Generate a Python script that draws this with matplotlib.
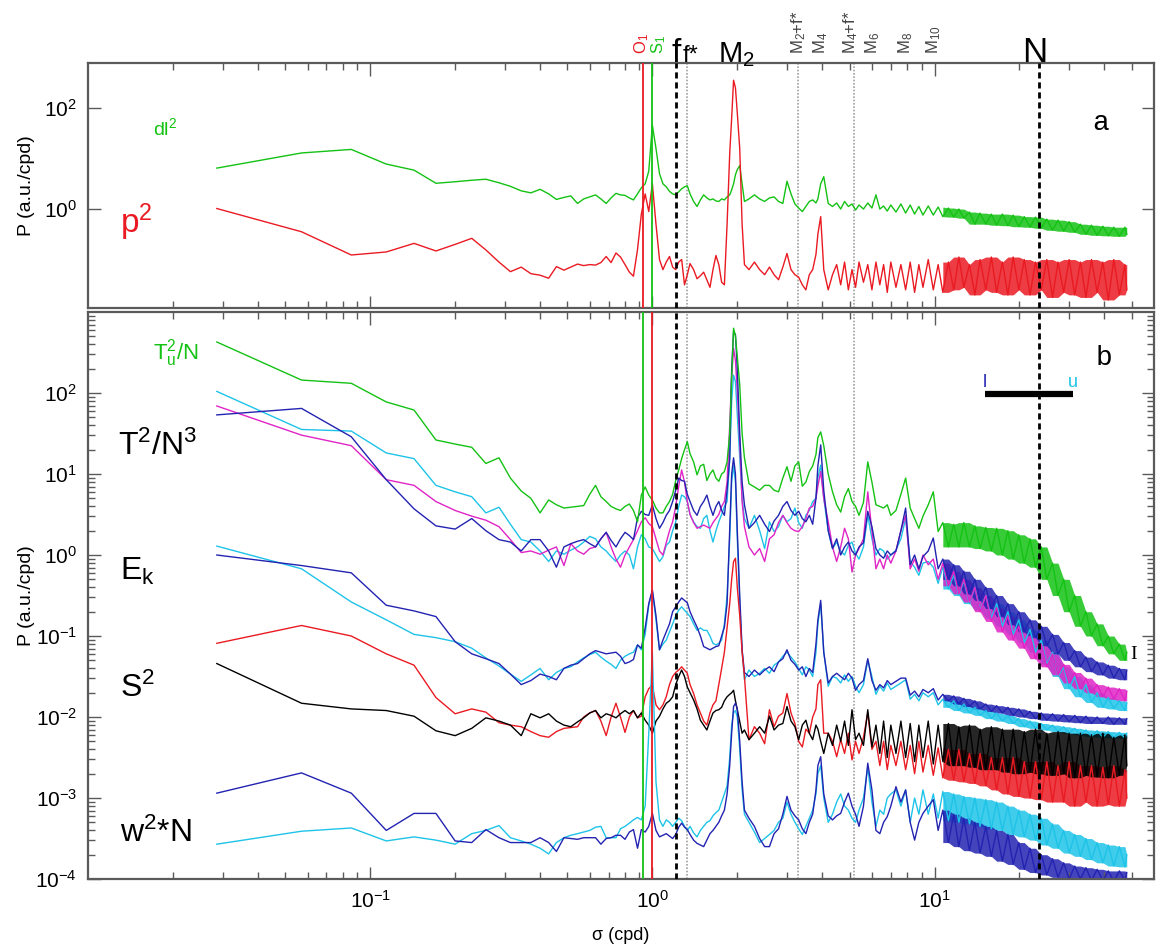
import numpy as np
import matplotlib
matplotlib.use('Agg')
import matplotlib.pyplot as plt
from matplotlib import transforms

plt.rcParams['font.family'] = ['Liberation Sans', 'DejaVu Sans']
plt.rcParams['mathtext.fontset'] = 'custom'
plt.rcParams['mathtext.rm'] = 'Liberation Sans'
plt.rcParams['mathtext.it'] = 'Liberation Sans:italic'
plt.rcParams['mathtext.bf'] = 'Liberation Sans:bold'
plt.rcParams['mathtext.default'] = 'regular'

# frequency grid (cpd): low part, tidal band, high-frequency part
sig_low = [0.0286, 0.0571, 0.0857, 0.114, 0.143, 0.171, 0.2, 0.229, 0.257, 0.286,
           0.314, 0.343, 0.371, 0.4, 0.429, 0.457, 0.486, 0.514, 0.543, 0.571,
           0.6, 0.629, 0.657, 0.686, 0.714, 0.743, 0.771, 0.8, 0.829, 0.857,
           0.886]
sig_mid = [0.914, 0.943, 0.971, 1.0, 1.03, 1.06, 1.09, 1.12, 1.15, 1.18,
           1.21, 1.24, 1.27, 1.30, 1.33, 1.36, 1.40, 1.44, 1.48, 1.52,
           1.56, 1.60, 1.64, 1.68, 1.72, 1.76, 1.80, 1.84, 1.88, 1.91,
           1.94, 1.97, 2.0, 2.04, 2.08, 2.12]
sig_high = [2.2, 2.3, 2.4, 2.5, 2.6, 2.7, 2.8, 2.9, 3.0, 3.1,
            3.2, 3.3, 3.4, 3.5, 3.6, 3.7, 3.8, 3.86, 3.95, 4.05,
            4.2, 4.35, 4.5, 4.65, 4.8, 4.95, 5.1, 5.25, 5.4, 5.6,
            5.8, 6.0, 6.2, 6.4, 6.6, 6.8, 7.0, 7.3, 7.6, 7.9,
            8.2, 8.5, 8.8, 9.1, 9.5, 9.9, 10.3, 10.7, 11.2, 11.7,
            12.2, 12.7, 13.3, 13.9, 14.5, 15.2, 15.9, 16.6, 17.4, 18.2,
            19.0, 19.9, 20.8, 21.8, 22.8, 23.9, 25.0, 26.2, 27.4, 28.7,
            30.0, 31.4, 32.9, 34.4, 36.0, 37.7, 39.5, 41.3, 43.2, 45.2,
            47.3, 48.0]

# spectra, log10 of P (a.u./cpd)
# panel a
dl2 = [0.81, 1.11, 1.18, 0.89, 0.77, 0.51, 0.54, 0.57, 0.59, 0.52,
       0.45, 0.36, 0.32, 0.39, 0.30, 0.19, 0.23, 0.26, 0.11, 0.20,
       0.24, 0.28, 0.20, 0.11, 0.22, 0.31, 0.28, 0.27, 0.22, 0.18,
       0.30,
       0.42, 0.50, 0.75, 1.66, 1.20, 0.70, 0.50, 0.44, 0.35, 0.30,
       0.28, 0.34, 0.40, 0.44, 0.46, 0.30, 0.15, 0.05, 0.18, 0.28,
       0.22, 0.18, 0.20, 0.16, 0.15, 0.20, 0.18, 0.24, 0.28, 0.38,
       0.50, 0.68, 0.78, 0.86, 0.50, 0.15,
       0.20, 0.28, 0.20, 0.15, 0.22, 0.24, 0.15, 0.11, 0.55, 0.30,
       0.10, 0.02, -0.05, 0.05, 0.15, 0.18, 0.12, 0.20, 0.50, 0.64,
       0.11, 0.05, 0.12, 0.00, 0.15, 0.05, 0.10, -0.02, 0.08, 0.00,
       0.12, 0.02, 0.28, 0.00, 0.06, -0.04, 0.08, -0.06, 0.10, -0.08,
       0.08, -0.10, 0.05, -0.12, 0.06, -0.12, 0.04, -0.15, 0.02, -0.16,
       0.00, -0.18, -0.06, -0.30, -0.08, -0.30, -0.10, -0.32, -0.10, -0.33,
       -0.12, -0.35, -0.15, -0.36, -0.16, -0.38, -0.20, -0.42, -0.22, -0.44,
       -0.25, -0.46, -0.30, -0.50, -0.32, -0.52, -0.34, -0.53, -0.36, -0.54,
       -0.36, -0.50]
p2 = [0.01, -0.45, -0.91, -0.85, -0.68, -0.83, -0.70, -0.58, -0.81, -1.05,
      -1.24, -1.15, -1.28, -1.31, -1.37, -1.14, -1.21, -1.15, -1.09, -1.12,
      -1.10, -1.11, -1.06, -0.94, -1.06, -0.87, -0.95, -1.10, -1.25, -1.33,
      -0.80,
      -0.10, 0.30, -0.05, 0.50, -0.30, -1.00, -1.20, -1.05, -0.94, -1.15,
      -1.20, -1.05, -1.00, -1.50, -1.30, -1.08, -1.20, -1.38, -1.32, -1.25,
      -1.40, -1.55, -1.20, -0.92, -1.10, -1.45, -1.50, -0.30, 1.10, 1.80,
      2.55, 2.40, 1.90, 1.20, -0.30, -1.10,
      -1.20, -1.05, -1.20, -1.30, -1.15, -1.30, -1.40, -1.15, -0.88, -1.20,
      -1.30, -1.35, -1.50, -1.60, -1.30, -1.20, -0.90, -0.50, -0.15, -1.20,
      -1.60, -1.30, -1.10, -1.50, -1.05, -1.60, -1.20, -1.55, -1.05, -1.45,
      -1.10, -1.60, -1.05, -1.50, -1.10, -1.65, -1.05, -1.55, -1.10, -1.60,
      -1.05, -1.65, -1.10, -1.55, -1.00, -1.60, -1.10, -1.65, -1.05, -1.60,
      -0.95, -1.55, -1.10, -1.70, -1.00, -1.60, -0.95, -1.65, -1.05, -1.70,
      -0.95, -1.60, -1.00, -1.70, -1.05, -1.60, -1.00, -1.75, -1.05, -1.65,
      -1.00, -1.70, -1.05, -1.75, -1.00, -1.65, -1.05, -1.80, -1.00, -1.70,
      -1.10, -1.60]

# panel b
tu2 = [2.63, 2.16, 2.12, 1.89, 1.79, 1.42, 1.37, 1.33, 1.13, 1.20,
       0.95, 0.79, 0.70, 0.52, 0.68, 0.62, 0.58, 0.59, 0.60, 0.61,
       0.75, 0.86, 0.72, 0.66, 0.60, 0.57, 0.55, 0.60, 0.63, 0.55,
       0.41,
       0.74, 0.84, 0.74, 0.68, 0.58, 0.52, 0.52, 0.60, 0.66, 0.75,
       0.92, 1.05, 1.19, 1.30, 1.40, 1.25, 1.15, 0.99, 1.10, 1.12,
       0.92, 1.00, 1.05, 0.95, 0.91, 1.00, 1.03, 1.15, 1.50, 2.20,
       2.80, 2.70, 2.45, 2.10, 1.50, 1.20,
       0.88, 0.84, 0.80, 0.86, 0.86, 0.80, 0.78, 0.95, 1.09, 0.91,
       1.10, 1.15, 0.85, 0.90, 1.03, 1.10, 1.24, 1.45, 1.52, 1.35,
       1.00, 0.78, 0.62, 0.53, 0.72, 0.82, 0.66, 0.60, 0.49, 0.65,
       1.15, 0.90, 0.62, 0.60, 0.58, 0.62, 0.49, 0.55, 0.75, 0.95,
       0.58, 0.45, 0.33, 0.48, 0.62, 0.78, 0.29, 0.40, 0.10, 0.38,
       0.10, 0.40, 0.10, 0.36, 0.08, 0.34, 0.05, 0.33, 0.00, 0.30,
       -0.05, 0.25, -0.10, 0.20, -0.15, 0.10, -0.30, -0.10, -0.50, -0.30,
       -0.70, -0.50, -0.88, -0.70, -1.00, -0.85, -1.12, -1.00, -1.22, -1.10,
       -1.30, -1.20]
t2_cyan = [2.02, 1.55, 1.53, 1.26, 1.19, 0.86, 0.78, 0.72, 0.52, 0.59,
           0.38, 0.19, 0.16, 0.05, -0.08, 0.05, 0.01, 0.06, 0.10, 0.16,
           0.23, 0.20, 0.10, 0.05, -0.02, -0.08, 0.00, 0.05, 0.00, -0.17,
           0.10,
           0.25, 0.20, 0.10, 0.08, 0.00, -0.08, -0.02, 0.12, 0.16, 0.30,
           0.41, 0.60, 0.74, 0.72, 0.66, 0.50, 0.41, 0.35, 0.33, 0.45,
           0.49, 0.30, 0.16, 0.30, 0.41, 0.50, 0.60, 0.66, 1.20, 1.90,
           2.22, 2.14, 1.73, 1.20, 0.70, 0.45,
           0.33, 0.49, 0.30, 0.08, 0.41, 0.29, 0.35, 0.49, 0.41, 0.45,
           0.58, 0.40, 0.33, 0.49, 0.55, 0.66, 0.70, 0.95, 1.11, 0.70,
           0.30, 0.08, 0.16, 0.05, 0.00, 0.12, 0.16, 0.02, -0.05, 0.10,
           0.49, 0.20, 0.00, 0.08, 0.05, -0.05, 0.00, 0.06, 0.20, 0.45,
           -0.08, -0.15, -0.25, -0.10, -0.08, -0.15, -0.35, -0.15, -0.42, -0.25,
           -0.50, -0.32, -0.60, -0.40, -0.68, -0.50, -0.78, -0.60, -0.88, -0.70,
           -0.98, -0.80, -1.08, -0.92, -1.20, -1.05, -1.35, -1.20, -1.50, -1.38,
           -1.65, -1.50, -1.75, -1.60, -1.82, -1.70, -1.88, -1.76, -1.90, -1.80,
           -1.92, -1.82]
t2_mag = [1.84, 1.48, 1.35, 0.93, 0.86, 0.66, 0.55, 0.48, 0.43, 0.35,
          0.19, 0.03, 0.05, 0.01, 0.06, 0.10, -0.13, 0.14, 0.05, 0.01,
          0.08, 0.10, 0.20, 0.28, 0.10, -0.05, -0.15, 0.00, 0.10, 0.19,
          0.30,
          0.41, 0.46, 0.39, 0.35, 0.20, 0.05, 0.00, 0.15, 0.30, 0.41,
          0.60, 0.85, 1.05, 0.90, 0.66, 0.50, 0.40, 0.33, 0.35, 0.37,
          0.35, 0.33, 0.40, 0.45, 0.50, 0.60, 0.66, 0.90, 1.60, 2.20,
          2.55, 2.40, 2.02, 1.40, 0.66, 0.35,
          0.10, 0.00, 0.08, -0.08, 0.20, 0.25, 0.40, 0.49, 0.40, 0.33,
          0.30, 0.29, 0.35, 0.45, 0.58, 0.60, 0.70, 0.85, 1.03, 0.70,
          0.41, 0.10, -0.08, 0.10, 0.33, 0.20, -0.21, 0.00, 0.08, 0.20,
          0.78, 0.30, -0.17, -0.05, -0.17, 0.00, -0.10, 0.05, 0.30, 0.49,
          -0.17, -0.05, -0.20, 0.00, -0.12, -0.05, -0.30, -0.10, -0.38, -0.20,
          -0.48, -0.30, -0.58, -0.40, -0.70, -0.50, -0.82, -0.65, -0.95, -0.75,
          -1.05, -0.88, -1.15, -1.00, -1.28, -1.10, -1.38, -1.22, -1.48, -1.35,
          -1.58, -1.45, -1.65, -1.52, -1.70, -1.60, -1.75, -1.63, -1.78, -1.65,
          -1.80, -1.68]
t2_navy = [1.73, 1.81, 1.46, 0.93, 0.57, 0.36, 0.32, 0.45, 0.30, 0.19,
           0.16, 0.05, 0.19, 0.19, 0.05, -0.15, 0.10, 0.14, 0.17, 0.19,
           0.14, 0.10, 0.20, 0.28, 0.18, 0.10, 0.20, 0.28, 0.24, 0.19,
           0.46,
           0.54, 0.50, 0.49, 0.62, 0.45, 0.33, 0.40, 0.49, 0.55, 0.66,
           0.80, 0.95, 0.92, 0.91, 0.75, 0.66, 0.55, 0.49, 0.60, 0.66,
           0.74, 0.60, 0.49, 0.60, 0.66, 0.55, 0.49, 0.80, 1.19, 2.30,
           2.76, 2.72, 2.30, 1.50, 0.90, 0.62,
           0.33, 0.40, 0.49, 0.38, 0.29, 0.42, 0.49, 0.60, 0.66, 0.55,
           0.49, 0.54, 0.45, 0.41, 0.49, 0.38, 0.70, 1.10, 1.36, 0.80,
           0.30, 0.08, 0.20, 0.00, 0.10, 0.16, 0.05, 0.00, 0.10, 0.15,
           0.54, 0.35, 0.08, 0.00, -0.04, 0.05, 0.00, 0.05, 0.30, 0.58,
           -0.12, 0.00, -0.17, -0.02, 0.05, 0.21, -0.17, -0.05, -0.30, -0.12,
           -0.38, -0.20, -0.48, -0.30, -0.56, -0.40, -0.66, -0.50, -0.76, -0.60,
           -0.86, -0.70, -0.95, -0.80, -1.02, -0.88, -1.12, -0.98, -1.22, -1.08,
           -1.30, -1.18, -1.38, -1.26, -1.44, -1.32, -1.48, -1.36, -1.52, -1.40,
           -1.54, -1.42]
ek_cyan = [0.11, -0.17, -0.58, -0.80, -0.98, -1.02, -1.07, -1.15, -1.27, -1.37,
           -1.47, -1.56, -1.48, -1.40, -1.54, -1.45, -1.40, -1.38, -1.32, -1.27,
           -1.23, -1.20, -1.26, -1.31, -1.35, -1.40, -1.30, -1.25, -1.22, -1.20,
           -1.11,
           -1.17, -0.98, -0.62, -0.45, -0.80, -1.17, -1.10, -1.05, -0.95, -0.85,
           -0.75, -0.68, -0.64, -0.68, -0.72, -0.76, -0.85, -0.93, -0.90, -0.93,
           -0.93, -1.00, -1.09, -1.11, -1.09, -1.05, -0.85, -0.50, 0.20, 0.90,
           1.10, 0.90, 0.20, -0.60, -1.17, -1.54,
           -1.42, -1.50, -1.46, -1.40, -1.46, -1.36, -1.32, -1.25, -1.20, -1.26,
           -1.32, -1.40, -1.48, -1.38, -1.42, -1.50, -1.20, -0.85, -0.60, -1.20,
           -1.62, -1.50, -1.52, -1.58, -1.48, -1.56, -1.50, -1.62, -1.70, -1.60,
           -1.30, -1.50, -1.72, -1.62, -1.68, -1.58, -1.66, -1.62, -1.58, -1.54,
           -1.78, -1.72, -1.80, -1.70, -1.75, -1.70, -1.85, -1.78, -1.88, -1.80,
           -1.92, -1.84, -1.95, -1.88, -1.98, -1.92, -2.02, -1.95, -2.05, -1.98,
           -2.08, -2.02, -2.12, -2.05, -2.14, -2.08, -2.16, -2.10, -2.18, -2.12,
           -2.20, -2.14, -2.22, -2.16, -2.24, -2.17, -2.25, -2.18, -2.26, -2.19,
           -2.26, -2.20]
ek_navy = [0.00, -0.13, -0.22, -0.62, -0.69, -0.76, -1.07, -1.22, -1.28, -1.34,
           -1.47, -1.60, -1.55, -1.47, -1.50, -1.54, -1.40, -1.36, -1.34, -1.28,
           -1.22, -1.18, -1.20, -1.22, -1.21, -1.20, -1.25, -1.34, -1.32, -1.29,
           -1.11,
           -1.15, -0.90, -0.60, -0.43, -0.75, -1.17, -1.05, -0.95, -0.85, -0.70,
           -0.64, -0.58, -0.53, -0.56, -0.59, -0.70, -0.80, -0.89, -1.00, -1.13,
           -1.15, -1.17, -1.15, -1.13, -1.12, -1.00, -0.89, -0.60, 0.30, 1.00,
           1.20, 1.00, 0.30, -0.50, -1.17, -1.45,
           -1.50, -1.42, -1.48, -1.42, -1.38, -1.44, -1.32, -1.28, -1.17, -1.30,
           -1.35, -1.42, -1.38, -1.50, -1.40, -1.45, -1.10, -0.80, -0.56, -1.20,
           -1.58, -1.50, -1.46, -1.50, -1.54, -1.46, -1.52, -1.67, -1.60, -1.55,
           -1.28, -1.55, -1.67, -1.60, -1.64, -1.55, -1.60, -1.56, -1.52, -1.52,
           -1.73, -1.68, -1.75, -1.66, -1.70, -1.65, -1.79, -1.72, -1.80, -1.74,
           -1.84, -1.77, -1.87, -1.80, -1.90, -1.84, -1.93, -1.86, -1.95, -1.88,
           -1.98, -1.90, -2.00, -1.93, -2.02, -1.95, -2.04, -1.96, -2.05, -1.97,
           -2.06, -1.98, -2.07, -1.99, -2.08, -2.00, -2.08, -2.00, -2.09, -2.01,
           -2.09, -2.02]
s2_red = [-1.09, -0.87, -1.00, -1.22, -1.36, -1.76, -1.96, -1.90, -1.94, -2.07,
          -2.10, -2.12, -2.18, -2.23, -2.25, -2.18, -2.14, -2.13, -2.12, -2.00,
          -1.95, -1.92, -2.05, -2.23, -2.00, -1.83, -2.00, -2.19, -2.00, -1.92,
          -2.01,
          -1.99, -1.75, -1.65, -1.61, -1.85, -1.91, -1.85, -1.75, -1.60, -1.50,
          -1.45, -1.42, -1.38, -1.42, -1.46, -1.60, -1.71, -1.85, -1.95, -2.05,
          -2.10, -1.95, -1.85, -1.80, -1.60, -1.40, -1.20, -0.90, -0.60, -0.30,
          -0.08, -0.04, -0.40, -0.75, -1.20, -1.50,
          -2.28, -2.12, -2.20, -2.33, -1.91, -2.12, -1.99, -1.95, -1.71, -1.95,
          -2.08, -2.30, -2.37, -2.15, -2.20, -2.00, -1.90, -1.60, -1.54, -2.20,
          -2.20, -2.30, -2.49, -2.28, -2.45, -2.20, -2.53, -2.30, -2.45, -2.25,
          -1.95, -2.40, -2.30, -2.60, -2.30, -2.65, -2.35, -2.60, -2.30, -2.65,
          -2.35, -2.70, -2.30, -2.68, -2.35, -2.72, -2.38, -2.75, -2.40, -2.78,
          -2.40, -2.80, -2.45, -2.82, -2.45, -2.85, -2.50, -2.90, -2.50, -2.95,
          -2.50, -2.98, -2.55, -3.00, -2.55, -3.02, -2.55, -3.05, -2.60, -3.05,
          -2.55, -3.10, -2.60, -3.05, -2.60, -3.10, -2.62, -3.08, -2.60, -3.10,
          -2.65, -3.00]
s2_black = [-1.34, -1.83, -1.90, -1.92, -1.99, -2.17, -2.23, -2.14, -2.01, -2.05,
            -2.10, -2.23, -1.96, -2.01, -1.96, -2.05, -2.10, -2.12, -2.06, -2.01,
            -1.95, -1.92, -2.01, -1.96, -1.98, -2.01, -1.96, -1.92, -1.96, -1.92,
            -2.01,
            -1.95, -2.04, -2.10, -2.20, -2.05, -1.99, -1.90, -1.83, -1.80, -1.75,
            -1.60, -1.50, -1.42, -1.50, -1.63, -1.70, -1.79, -1.90, -2.04, -2.10,
            -2.16, -2.05, -1.95, -1.92, -1.91, -1.88, -1.80, -1.75, -1.72, -1.70,
            -1.67, -1.80, -1.91, -2.05, -2.20, -2.16,
            -2.28, -2.20, -2.12, -2.20, -1.99, -2.16, -2.10, -2.08, -1.87, -2.05,
            -2.12, -2.28, -2.10, -2.04, -2.20, -2.28, -2.10, -2.15, -2.30, -2.45,
            -2.20, -2.35, -2.10, -2.30, -2.05, -2.35, -1.91, -2.28, -2.20, -2.35,
            -1.91, -2.37, -2.10, -2.45, -2.05, -2.50, -2.10, -2.45, -2.05, -2.50,
            -2.08, -2.55, -2.10, -2.50, -2.05, -2.58, -2.10, -2.55, -2.08, -2.60,
            -2.12, -2.60, -2.10, -2.62, -2.15, -2.65, -2.12, -2.65, -2.15, -2.68,
            -2.15, -2.70, -2.18, -2.68, -2.15, -2.70, -2.20, -2.72, -2.18, -2.70,
            -2.20, -2.75, -2.20, -2.72, -2.22, -2.74, -2.20, -2.75, -2.25, -2.72,
            -2.22, -2.60]
w2_navy = [-2.94, -2.69, -2.94, -3.40, -3.19, -3.19, -3.53, -3.55, -3.39, -3.49,
           -3.55, -3.55, -3.55, -3.49, -3.55, -3.66, -3.49, -3.50, -3.51, -3.49,
           -3.49, -3.49, -3.57, -3.50, -3.49, -3.46, -3.46, -3.51, -3.42, -3.39,
           -3.62,
           -3.39, -3.42, -3.35, -3.19, -3.40, -3.48, -3.46, -3.44, -3.47, -3.50,
           -3.45, -3.36, -3.31, -3.36, -3.39, -3.45, -3.52, -3.56, -3.58, -3.60,
           -3.52, -3.44, -3.40, -3.35, -3.30, -3.22, -3.15, -2.95, -2.60, -2.20,
           -1.87, -1.83, -1.90, -2.30, -2.80, -3.15,
           -3.25, -3.35, -3.50, -3.60, -3.60, -3.44, -3.38, -3.20, -2.98, -3.15,
           -3.22, -3.27, -3.38, -3.44, -3.30, -3.20, -2.90, -2.60, -2.49, -2.95,
           -3.22, -3.27, -3.22, -3.19, -3.05, -2.94, -3.10, -3.20, -3.35, -3.10,
           -2.57, -2.90, -3.40, -3.44, -3.30, -3.23, -3.10, -2.86, -3.05, -2.90,
           -3.30, -3.52, -3.30, -3.19, -3.10, -3.02, -3.40, -3.15, -3.55, -3.20,
           -3.60, -3.25, -3.65, -3.30, -3.68, -3.35, -3.72, -3.40, -3.78, -3.45,
           -3.82, -3.55, -3.88, -3.62, -3.92, -3.70, -3.95, -3.75, -3.98, -3.80,
           -4.00, -3.84, -4.00, -3.86, -4.02, -3.88, -4.02, -3.90, -4.03, -3.90,
           -4.02, -3.92]
w2_cyan = [-3.57, -3.41, -3.37, -3.53, -3.48, -3.52, -3.57, -3.44, -3.40, -3.34,
           -3.49, -3.53, -3.57, -3.62, -3.69, -3.55, -3.49, -3.46, -3.44, -3.42,
           -3.40, -3.36, -3.35, -3.49, -3.49, -3.49, -3.38, -3.35, -3.31, -3.27,
           -3.24,
           -3.27, -3.10, -2.20, -1.20, -2.80, -3.27, -3.35, -3.27, -3.30, -3.35,
           -3.30, -3.25, -3.28, -3.35, -3.40, -3.35, -3.43, -3.48, -3.40, -3.35,
           -3.30, -3.28, -3.22, -3.18, -3.15, -3.05, -2.95, -2.85, -2.50, -2.10,
           -1.95, -1.92, -2.00, -2.40, -2.90, -3.20,
           -3.30, -3.42, -3.55, -3.50, -3.45, -3.40, -3.30, -3.25, -3.05, -3.20,
           -3.30, -3.38, -3.45, -3.35, -3.25, -3.15, -2.95, -2.70, -2.60, -3.00,
           -3.30, -3.20, -3.05, -2.95, -3.10, -3.15, -3.25, -3.30, -3.15, -3.00,
           -2.62, -3.05, -3.35, -3.15, -3.20, -3.00, -2.95, -2.90, -3.10, -2.90,
           -3.30, -3.00, -3.20, -2.90, -3.20, -2.95, -3.25, -2.92, -3.28, -2.95,
           -3.30, -2.98, -3.32, -3.00, -3.35, -3.02, -3.38, -3.05, -3.40, -3.10,
           -3.45, -3.15, -3.48, -3.20, -3.52, -3.25, -3.58, -3.32, -3.62, -3.40,
           -3.68, -3.45, -3.72, -3.50, -3.76, -3.55, -3.80, -3.58, -3.84, -3.60,
           -3.85, -3.70]

# reference frequencies (cpd)
o1 = 0.93
s1 = 1.0
f_inertial = 1.216
f_star = 1.327
m2_fstar = 3.27
m4_fstar = 5.2
n_buoy = 23.4
tide_names = ['M$_2$+f*', 'M$_4$', 'M$_4$+f*', 'M$_6$', 'M$_8$', 'M$_{10}$']
tide_freqs = [3.30, 3.95, 5.05, 6.05, 7.9, 9.9]

# bandwidth bar in panel b
bar_sigma = [15.1, 30.9]
bar_p = [98.0, 98.0]

GREEN = '#14c214'
RED = '#ea1a22'
CYAN = '#1ec3e8'
NAVY = '#2323b2'
MAGENTA = '#e024c6'
FRAME = '#5a5a5a'

sigma = np.array(sig_low + sig_mid + sig_high)
band_from = 10.5   # above this the spectra form a dense noise band


def P(vals):
    return 10.0 ** np.asarray(vals)


def draw_spectrum(ax, vals, color):
    v = np.asarray(vals)
    ax.plot(sigma, P(v), color=color, lw=1.0)
    # shade the spread of the dense high-frequency noise
    pad = np.concatenate(([v[0]], v, [v[-1]]))
    hi = np.maximum(np.maximum(pad[:-2], pad[1:-1]), pad[2:])
    lo = np.minimum(np.minimum(pad[:-2], pad[1:-1]), pad[2:])
    m = sigma >= band_from
    ax.fill_between(sigma[m], P(lo[m]), P(hi[m]), color=color, lw=0, alpha=0.85)


fig = plt.figure(figsize=(11.6, 9.51), dpi=100)
ax_a = fig.add_axes([0.0759, 0.6761, 0.919, 0.2576])
ax_b = fig.add_axes([0.0759, 0.0757, 0.919, 0.5962])

draw_spectrum(ax_a, dl2, GREEN)
draw_spectrum(ax_a, p2, RED)

for vals, col in [(t2_cyan, CYAN), (t2_mag, MAGENTA), (t2_navy, NAVY), (tu2, GREEN),
                  (ek_cyan, CYAN), (ek_navy, NAVY), (s2_red, RED), (s2_black, 'k'),
                  (w2_cyan, CYAN), (w2_navy, NAVY)]:
    draw_spectrum(ax_b, vals, col)

# vertical reference lines
for ax, (c1, c2) in [(ax_a, (RED, GREEN)), (ax_b, (GREEN, RED))]:
    ax.axvline(o1, color=c1, lw=1.3, zorder=4)
    ax.axvline(s1, color=c2, lw=1.3, zorder=4)
    for x in (f_star, m2_fstar, m4_fstar):
        ax.axvline(x, color='#a0a0a0', lw=1.2, ls=(0, (1, 1)), zorder=1)
    for x in (f_inertial, n_buoy):
        ax.axvline(x, color='k', lw=2.0, ls=(0, (2.2, 1.4)), zorder=4)

minor_x = [k * 10.0 ** d for d in (-2, -1, 0, 1) for k in range(2, 10) if k * 10.0 ** d < 60]
for ax in (ax_a, ax_b):
    ax.set_xscale('log')
    ax.set_yscale('log')
    ax.set_xlim(0.01, 60)
    ax.set_xticks([0.1, 1, 10])
    ax.set_xticks(minor_x, minor=True)
    ax.tick_params(which='both', direction='in', top=True, right=True,
                   color=FRAME, width=1.0, labelsize=15, pad=8)
    ax.tick_params(which='major', length=9)
    ax.tick_params(which='minor', length=5)
    for sp in ax.spines.values():
        sp.set_color(FRAME)
        sp.set_linewidth(1.6)
    ax.set_ylabel('P (a.u./cpd)', fontsize=14)
    ax.yaxis.set_label_coords(-0.05, 0.5)

ax_a.set_ylim(10 ** -1.96, 10 ** 2.89)
ax_a.set_yticks([1, 100])
ax_a.yaxis.set_minor_locator(matplotlib.ticker.NullLocator())
ax_a.tick_params(labelbottom=False)

ax_b.set_ylim(1e-4, 1e3)
ax_b.set_yticks([1e-4, 1e-3, 1e-2, 1e-1, 1, 10, 100])
ax_b.set_yticks([k * 10.0 ** d for d in range(-4, 3) for k in range(2, 10)], minor=True)
ax_b.set_xlabel('σ (cpd)', fontsize=13)
ax_b.xaxis.set_label_coords(0.5, -0.085)

# curve labels
ax_a.text(0.0130, 10 ** -0.475, 'p$^2$', color=RED, fontsize=24, va='baseline')
ax_a.text(0.0170, 10 ** 1.47, 'dl$^2$', color=GREEN, fontsize=14, va='baseline')
ax_a.text(36.3, 10 ** 1.56, 'a', fontsize=20, family='Liberation Mono', va='baseline')

ax_b.text(0.0170, 10 ** 2.41, 'T$_u^2$/N', color=GREEN, fontsize=16, va='baseline')
ax_b.text(0.0128, 10 ** 1.235, 'T$^2$/N$^3$', fontsize=23, va='baseline')
ax_b.text(0.0130, 10 ** -0.31, 'E$_k$', fontsize=23, va='baseline')
ax_b.text(0.0130, 10 ** -1.75, 'S$^2$', fontsize=23, va='baseline')
ax_b.text(0.0130, 10 ** -3.54, 'w$^2$*N', fontsize=23, va='baseline')
ax_b.text(37.2, 10 ** 2.35, 'b', fontsize=20, family='Liberation Mono', va='baseline')
ax_b.text(50.8, 10 ** -1.23, 'I', fontsize=14, family='Liberation Serif',
          ha='center', va='center')

ax_b.plot(bar_sigma, bar_p, color='k', lw=4.5, solid_capstyle='butt', zorder=5)
ax_b.text(bar_sigma[0], 10 ** 2.03, 'l', color=NAVY, fontsize=13, ha='center', va='bottom')
ax_b.text(bar_sigma[1], 10 ** 2.03, 'u', color=CYAN, fontsize=13, ha='center', va='bottom')

# frequency labels above panel a
trans = transforms.blended_transform_factory(ax_a.transData, ax_a.transAxes)
ax_a.text(0.914, 1.035, 'O$_1$', color=RED, fontsize=12, rotation=90,
          ha='center', va='bottom', transform=trans)
ax_a.text(1.05, 1.035, 'S$_1$', color=GREEN, fontsize=12, rotation=90,
          ha='center', va='bottom', transform=trans)
for name, fr in zip(tide_names, tide_freqs):
    ax_a.text(fr, 1.035, name, color='#444444', fontsize=12, rotation=90,
              ha='center', va='bottom', transform=trans)
ax_a.text(f_inertial, 1.005, 'f', fontsize=24, ha='center', va='baseline', transform=trans)
ax_a.text(1.37, 1.005, 'f*', fontsize=17, ha='center', va='baseline', transform=trans)
ax_a.text(1.985, 1.005, 'M$_2$', fontsize=21, ha='center', va='baseline', transform=trans)
ax_a.text(22.6, 1.005, 'N', fontsize=25, ha='center', va='baseline', transform=trans)

fig.savefig('out.png', dpi=100, facecolor='white')
